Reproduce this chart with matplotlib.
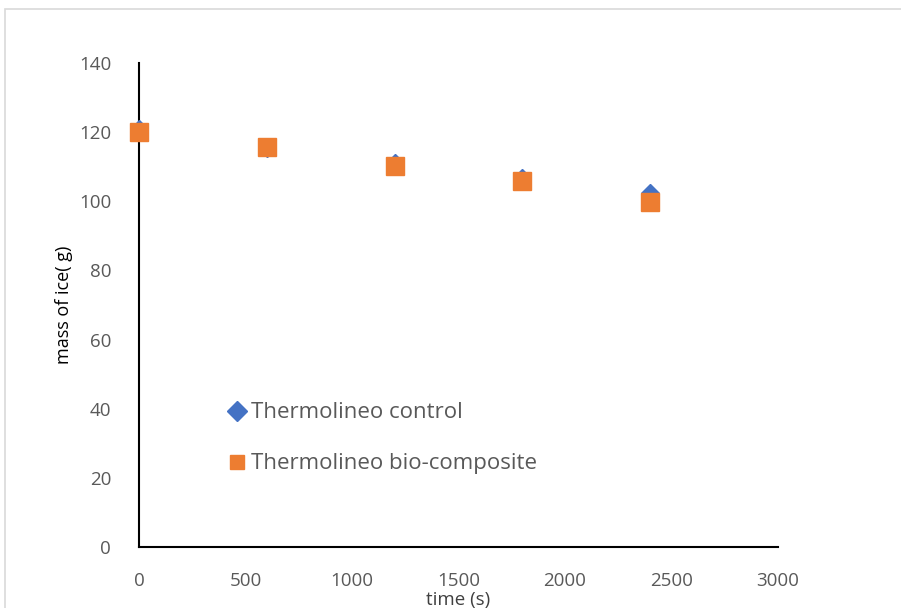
import matplotlib.pyplot as plt
from matplotlib.patches import Rectangle

# time (s) and ice mass (g) for the two containers
time_s = [0, 600, 1200, 1800, 2400]
control_mass = [121, 115.3, 111, 106.7, 102.3]
composite_mass = [120, 115.8, 110.3, 105.8, 99.8]

x_ticks = [0, 500, 1000, 1500, 2000, 2500, 3000]
y_ticks = [0, 20, 40, 60, 80, 100, 120, 140]

blue = '#4472C4'
orange = '#ED7D31'
grey = '#595959'

plt.rcParams['font.family'] = ['Open Sans', 'DejaVu Sans']

fig = plt.figure(figsize=(9.01, 6.08), dpi=100)
ax = fig.add_axes([139 / 901, 1 - 547 / 608, (778 - 139) / 901, (547 - 63) / 608])

# thin frame around the chart area
fig.patches.append(Rectangle((5 / 901, -0.01), 1.0, 1 - 9 / 608 + 0.01,
                             transform=fig.transFigure, fill=False,
                             edgecolor='#D9D9D9', linewidth=1.2))

ax.plot(time_s, control_mass, linestyle='none', marker='D', markersize=9,
        color=blue, label='Thermolineo control', clip_on=False, zorder=3)
ax.plot(time_s, composite_mass, linestyle='none', marker='s', markersize=12.5,
        color=orange, label='Thermolineo bio-composite', clip_on=False, zorder=4)

ax.set_xlim(0, 3000)
ax.set_ylim(0, 140)
ax.set_xticks(x_ticks)
ax.set_yticks(y_ticks)
ax.tick_params(length=0, labelsize=13.5, labelcolor=grey)
ax.tick_params(axis='y', pad=20)
ax.tick_params(axis='x', pad=18)

for side in ('top', 'right'):
    ax.spines[side].set_visible(False)
for side in ('left', 'bottom'):
    ax.spines[side].set_color('black')
    ax.spines[side].set_linewidth(1.5)

ax.set_xlabel('time (s)', fontsize=13.5, color='#404040', labelpad=1)
ax.set_ylabel('mass of ice( g)', fontsize=13, color='black', labelpad=4)

leg = ax.legend(loc='upper left', bbox_to_anchor=(0.112, 0.34), frameon=False,
                fontsize=16, labelspacing=1.35, handlelength=0.6,
                handletextpad=0.3, labelcolor=grey)
for h in leg.legend_handles:
    h.set_markersize(10)

fig.savefig('out.png', dpi=100, facecolor='white')
